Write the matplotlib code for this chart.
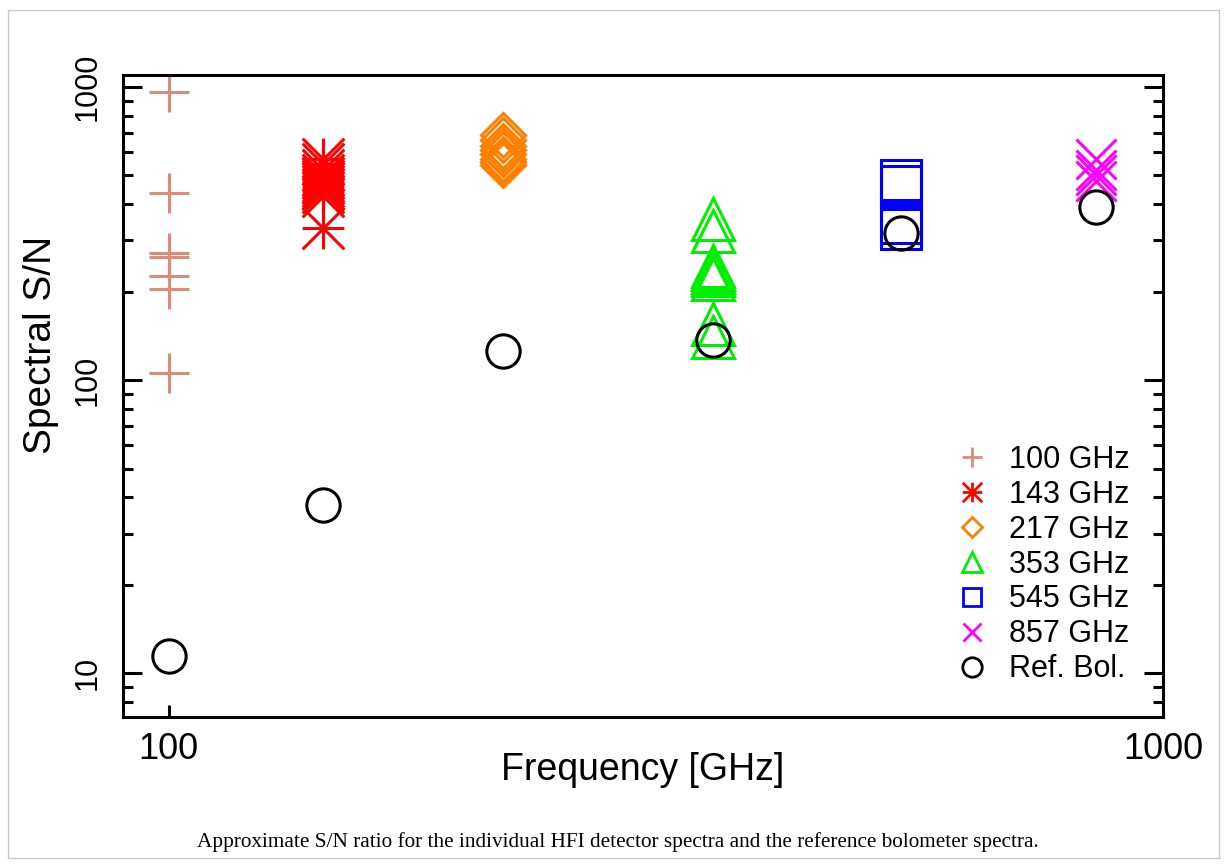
import matplotlib

matplotlib.use("Agg")
import matplotlib.pyplot as plt
from matplotlib.lines import Line2D
from matplotlib.patches import Rectangle
from matplotlib.path import Path
from matplotlib.ticker import FixedLocator, LogLocator, NullFormatter, NullLocator

plt.rcParams["font.family"] = ["Liberation Sans", "DejaVu Sans"]

# band labels, nominal frequencies [GHz] and per-detector spectral S/N
band_labels = ["100 GHz", "143 GHz", "217 GHz", "353 GHz", "545 GHz", "857 GHz"]
band_freq = [100, 143, 217, 353, 545, 857]
sn_100 = [960, 435, 272, 264, 226, 205, 106]
sn_143 = [568, 545, 520, 500, 490, 480, 470, 460, 450, 440, 425, 330]
sn_217 = [686, 660, 630, 610, 590, 570, 555, 541]
sn_353 = [354, 323, 245, 240, 234, 228, 221, 155, 140]
sn_545 = [481, 459, 343, 328]
sn_857 = [568, 522, 501, 480]
band_sn = [sn_100, sn_143, sn_217, sn_353, sn_545, sn_857]

# reference bolometer, one per band
ref_label = "Ref. Bol."
ref_sn = [11.5, 37.4, 126, 137, 317, 389]

caption = ("Approximate S/N ratio for the individual HFI detector spectra "
           "and the reference bolometer spectra.")

# IDL-style asterisk: plus and cross in the same box
asterisk = Path([(-1, 0), (1, 0), (0, -1), (0, 1), (-1, -1), (1, 1), (-1, 1), (1, -1)],
                [Path.MOVETO, Path.LINETO] * 4)

band_style = [
    dict(marker="+", color="#dc8a7c", ms=29, legend_ms=14),
    dict(marker=asterisk, color="#ff0000", ms=30, legend_ms=14),
    dict(marker="D", color="#ff8000", ms=22, legend_ms=10),
    dict(marker="^", color="#00ee00", ms=30, legend_ms=14),
    dict(marker="s", color="#0000ff", ms=29, legend_ms=12.5),
    dict(marker="x", color="#ff00ff", ms=29, legend_ms=13),
]

fig = plt.figure(figsize=(12.27, 8.68), dpi=100)
ax = fig.add_axes([123 / 1227, 1 - 717 / 868, 1040 / 1227, 642 / 868])

for freq, values, st in zip(band_freq, band_sn, band_style):
    ax.plot([freq] * len(values), values, linestyle="none", marker=st["marker"],
            ms=st["ms"], mec=st["color"], mfc="none", mew=2.2)
ax.plot(band_freq, ref_sn, linestyle="none", marker="o", ms=24, mec="black",
        mfc="none", mew=2.2)

ax.set_xscale("log")
ax.set_yscale("log")
ax.set_xlim(90, 1000)
ax.set_ylim(7.1, 1100)

ax.xaxis.set_major_locator(FixedLocator([100, 1000]))
ax.xaxis.set_minor_locator(NullLocator())
ax.set_xticklabels(["100", "1000"])
ax.yaxis.set_major_locator(FixedLocator([10, 100, 1000]))
ax.yaxis.set_minor_locator(LogLocator(base=10, subs=range(2, 10)))
ax.yaxis.set_minor_formatter(NullFormatter())
ax.set_yticklabels(["10", "100", "1000"])

for side in ax.spines.values():
    side.set_linewidth(2.2)
ax.tick_params(axis="x", which="major", direction="in", length=8.6, width=2.2,
               labelsize=26, pad=11, top=False)
ax.tick_params(axis="y", which="major", direction="in", length=14, width=2.2,
               labelsize=22, pad=15, right=True)
ax.tick_params(axis="y", which="minor", direction="in", length=7, width=2.2,
               right=True)
for lbl in ax.get_yticklabels():
    lbl.set_rotation(90)
    lbl.set_va("center")

ax.set_xlabel("Frequency [GHz]", fontsize=27)
ax.xaxis.set_label_coords(0.5, -0.054)
ax.set_ylabel("Spectral S/N", fontsize=28)
ax.yaxis.set_label_coords(-0.062, 0.58)

handles = [Line2D([], [], linestyle="none", marker=st["marker"], ms=st["legend_ms"],
                  mec=st["color"], mfc="none", mew=2)
           for st in band_style]
handles.append(Line2D([], [], linestyle="none", marker="o", ms=14, mec="black",
                      mfc="none", mew=2))
ax.legend(handles, band_labels + [ref_label], loc="lower right",
          bbox_to_anchor=(0.968, 0.051), frameon=False, fontsize=22,
          handlelength=0.5, handletextpad=0.95, labelspacing=0.16,
          borderpad=0, borderaxespad=0)

fig.text(618 / 1227, 1 - 842 / 868, caption, ha="center", va="center",
         family=["Liberation Serif"], fontsize=15.3)
fig.add_artist(Rectangle((8 / 1227, 1 - 858 / 868), 1211 / 1227, 848 / 868,
                         transform=fig.transFigure, fill=False, ec="#c8c8c8", lw=1))

fig.savefig("out.png", dpi=100)
